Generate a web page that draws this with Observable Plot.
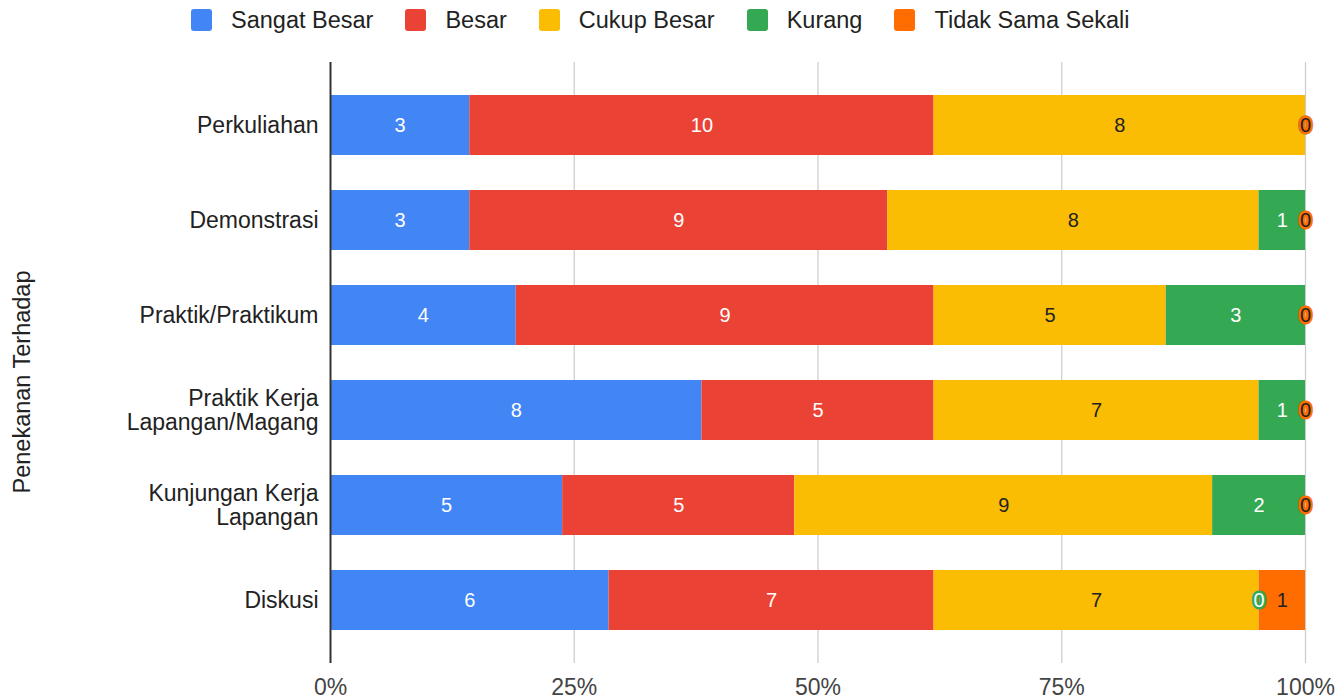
<!DOCTYPE html>
<html>
<head>
<meta charset="utf-8">
<script src="https://cdn.jsdelivr.net/npm/d3@7"></script>
<script src="https://cdn.jsdelivr.net/npm/@observablehq/plot@0.6"></script>
<style>
  html, body { margin: 0; padding: 0; background: #fff; }
  body { width: 1338px; height: 699px; overflow: hidden; font-family: Arial, "Liberation Sans", sans-serif; }
  #legend { height: 40px; display: flex; align-items: center; padding-left: 191px; box-sizing: border-box; font-size: 23.5px; color: #222; }
  .item { display: flex; align-items: center; margin-right: 32px; }
  .sw { width: 21px; height: 22px; border-radius: 3px; margin-right: 19px; }
</style>
</head>
<body>
<div id="legend"></div>
<div id="chart"></div>
<script>
const categories = ["Perkuliahan", "Demonstrasi", "Praktik/Praktikum", "Praktik Kerja\nLapangan/Magang", "Kunjungan Kerja\nLapangan", "Diskusi"];
const series = ["Sangat Besar", "Besar", "Cukup Besar", "Kurang", "Tidak Sama Sekali"];
const colors = ["#4285F4", "#EA4335", "#FBBC04", "#34A853", "#FF6D01"];
const sangatBesar = [3, 3, 4, 8, 5, 6];
const besar = [10, 9, 9, 5, 5, 7];
const cukupBesar = [8, 8, 5, 7, 9, 7];
const kurang = [0, 1, 3, 1, 2, 0];
const tidakSamaSekali = [0, 0, 0, 0, 0, 1];
const xTicks = [0, 0.25, 0.5, 0.75, 1];
const axisTitle = "Penekanan Terhadap";

const valuesBySeries = [sangatBesar, besar, cukupBesar, kurang, tidakSamaSekali];
const data = [];
categories.forEach((c, i) => {
  series.forEach((s, j) => data.push({category: c, series: s, value: valuesBySeries[j][i]}));
});

// legend
const legend = document.getElementById("legend");
series.forEach((s, j) => {
  const it = document.createElement("div");
  it.className = "item";
  it.innerHTML = `<div class="sw" style="background:${colors[j]}"></div><span>${s}</span>`;
  legend.appendChild(it);
});

const whiteText = ["Sangat Besar", "Besar", "Kurang"];
const stackOpts = (text) => Plot.stackX({offset: "normalize", x: "value", y: "category", z: "series", text});

const chart = Plot.plot({
  width: 1338,
  height: 659,
  marginTop: 22,
  marginBottom: 36,
  marginLeft: 330,
  marginRight: 33,
  style: {fontFamily: "Arial, 'Liberation Sans', sans-serif", background: "#fff"},
  x: {domain: [0, 1]},
  y: {domain: categories, range: [22, 623], paddingInner: 0.37, paddingOuter: 0.348},
  color: {domain: series, range: colors},
  marks: [
    Plot.gridX(xTicks.slice(1), {stroke: "#cccccc", strokeOpacity: 1, strokeWidth: 1.2}),
    Plot.barX(data, Plot.stackX({offset: "normalize", x: "value", y: "category", fill: "series", order: null})),
    Plot.ruleX([0], {stroke: "#333", strokeWidth: 2}),
    Plot.axisX({ticks: xTicks, tickFormat: d3.format(".0%"), tickSize: 0, tickPadding: 15, fontSize: 23, color: "#444", label: null}),
    Plot.axisY({tickSize: 0, tickPadding: 12, fontSize: 23, color: "#222", lineHeight: 1.05, label: null}),
    Plot.text([axisTitle], {frameAnchor: "left", textAnchor: "middle", rotate: -90, dx: -308, dy: 19, fontSize: 23.5, fill: "#222"}),
    Plot.text(data, {...stackOpts(d => d.value > 0 && whiteText.includes(d.series) ? String(d.value) : ""), fill: "white", fontSize: 20}),
    Plot.text(data, {...stackOpts(d => d.value > 0 && !whiteText.includes(d.series) ? String(d.value) : ""), fill: "#222", fontSize: 20}),
    Plot.text(data, {...stackOpts(d => d.value === 0 && d.series === "Kurang" ? "0" : ""), fill: "white", stroke: "#34A853", strokeWidth: 5, paintOrder: "stroke", fontSize: 20}),
    Plot.text(data, {...stackOpts(d => d.value === 0 && d.series === "Tidak Sama Sekali" ? "0" : ""), fill: "#222", stroke: "#FF6D01", strokeWidth: 5, paintOrder: "stroke", fontSize: 20})
  ]
});
document.getElementById("chart").appendChild(chart);
</script>
</body>
</html>
